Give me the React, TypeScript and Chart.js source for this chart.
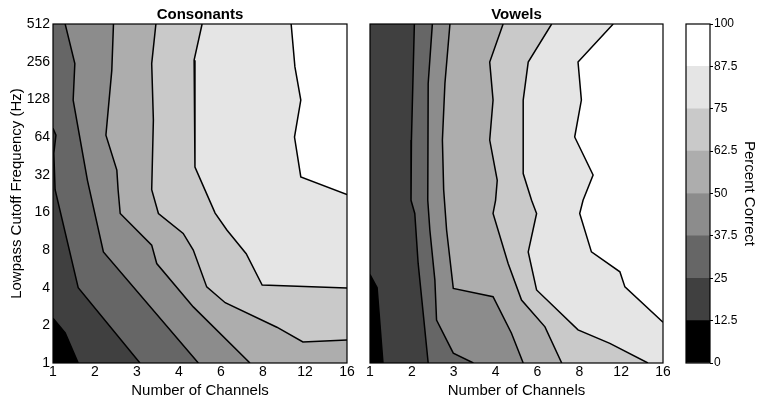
import React, { useEffect, useRef } from 'react';
import { Chart, registerables } from 'chart.js';

Chart.register(...registerables);
Chart.defaults.font.family = "'Liberation Sans', Arial, Helvetica, sans-serif";
Chart.defaults.color = '#000';

// Axis categories (evenly spaced on the plot)
const CHANNELS = ['1', '2', '3', '4', '6', '8', '12', '16'];
const CUTOFFS_HZ = ['1', '2', '4', '8', '16', '32', '64', '128', '256', '512'];

// Colour-bar levels (percent correct)
const LEVELS = [0, 12.5, 25, 37.5, 50, 62.5, 75, 87.5, 100];
const LEVEL_TICKS = ['0', '12.5', '25', '37.5', '50', '62.5', '75', '87.5', '100'];
const LEVEL_COLORS = ['#000000', '#404040', '#666666', '#8c8c8c', '#adadad', '#c9c9c9', '#e5e5e5', '#ffffff'];

// Contour lines: [channel index, cutoff index] (index along the axes above)
const CONS_12_5 = [[0, 1.19], [0.29, 0.8], [0.6, 0]];
const CONS_25 = [[0, 6.23], [0.07, 6.05], [0.02, 5.57], [0.05, 4.6], [0.6, 2.0], [2.07, 0]];
const CONS_37_5 = [[0.29, 9], [0.52, 7.95], [0.48, 6.98], [0.82, 4.85], [1.2, 2.95], [3.46, 0]];
const CONS_50 = [[1.44, 9], [1.4, 7.77], [1.26, 6.05], [1.52, 5.12], [1.55, 4.6], [1.6, 3.97], [2.35, 3.13], [2.47, 2.64], [3.34, 1.49], [4.69, 0]];
const CONS_62_5 = [[2.45, 9], [2.35, 7.95], [2.39, 6.45], [2.35, 4.6], [2.51, 3.97], [3.1, 3.44], [3.34, 3.0], [3.66, 2.02], [4.1, 1.6], [5.33, 0.95], [5.95, 0.56], [7, 0.61]];
const CONS_75 = [[3.55, 9], [3.36, 8.04], [3.38, 5.2], [3.62, 4.59], [3.86, 3.98], [4.14, 3.53], [4.6, 2.9], [4.98, 2.07], [7, 1.99]];
const CONS_87_5 = [[5.67, 9], [5.76, 7.86], [5.9, 6.98], [5.75, 6.0], [5.9, 4.94], [7, 4.47]];

const VOW_12_5 = [[0, 2.35], [0.17, 2.0], [0.31, 0]];
const VOW_25 = [[1.06, 9], [0.99, 5.92], [0.98, 4.32], [1.07, 3.97], [1.15, 2.65], [1.27, 1.33], [1.39, 0]];
const VOW_37_5 = [[1.49, 9], [1.39, 7.42], [1.38, 4.32], [1.43, 3.53], [1.55, 2.2], [1.59, 1.14], [1.99, 0.26], [2.47, 0]];
const VOW_50 = [[1.91, 9], [1.79, 7.42], [1.73, 5.92], [1.76, 4.6], [1.83, 3.53], [1.99, 1.98], [2.94, 1.76], [3.38, 0.79], [3.66, 0]];
const VOW_62_5 = [[3.18, 9], [2.86, 7.99], [2.94, 6.98], [2.86, 5.92], [3.04, 4.85], [3.0, 4.32], [2.94, 3.97], [3.3, 2.64], [3.62, 1.67], [4.18, 0.96], [4.58, 0]];
const VOW_75 = [[4.34, 9], [3.78, 7.99], [3.66, 6.98], [3.66, 5.03], [3.86, 4.32], [3.98, 3.97], [3.78, 2.95], [3.98, 1.94], [4.97, 0.88], [5.73, 0.52], [6.64, 0]];
const VOW_87_5 = [[5.81, 9], [4.97, 7.99], [5.05, 6.98], [4.89, 6.0], [5.33, 4.99], [5.09, 4.32], [5.01, 3.97], [5.29, 2.95], [5.97, 2.42], [6.09, 2.02], [7, 1.08]];

const CONS_LINES = [CONS_12_5, CONS_25, CONS_37_5, CONS_50, CONS_62_5, CONS_75, CONS_87_5];
const VOW_LINES = [VOW_12_5, VOW_25, VOW_37_5, VOW_50, VOW_62_5, VOW_75, VOW_87_5];

const XMAX = CHANNELS.length - 1;
const YMAX = CUTOFFS_HZ.length - 1;

// perimeter parameter, counter-clockwise starting at bottom-left
function perim(p: number[]) {
  const [x, y] = p;
  const e = 1e-6;
  if (y <= e) return x;
  if (x >= XMAX - e) return XMAX + y;
  if (y >= YMAX - e) return XMAX + YMAX + (XMAX - x);
  return 2 * XMAX + YMAX + (YMAX - y);
}
const CORNERS = [[XMAX, 0], [XMAX, YMAX], [0, YMAX], [0, 0]];
const CORNER_T = [XMAX, XMAX + YMAX, 2 * XMAX + YMAX, 2 * (XMAX + YMAX)];

// polygon of the region above / right of a contour line
function regionAbove(line: number[][]) {
  const total = 2 * (XMAX + YMAX);
  const ts = perim(line[0]);
  const te = perim(line[line.length - 1]);
  const stop = ts <= te ? ts + total : ts;
  const pts = line.slice();
  for (let k = 0; k < 2; k++) {
    for (let i = 0; i < 4; i++) {
      const t = CORNER_T[i] + k * total;
      if (t > te && t < stop) pts.push(CORNERS[i]);
    }
  }
  return pts;
}

const toXY = (pts: number[][]) => pts.map(([x, y]) => ({ x, y }));

const framePlugin = {
  id: 'frame',
  afterDatasetsDraw(chart: any) {
    const { ctx, chartArea: a } = chart;
    ctx.save();
    ctx.strokeStyle = '#000';
    ctx.lineWidth = 1.2;
    ctx.strokeRect(a.left, a.top, a.right - a.left, a.bottom - a.top);
    ctx.restore();
  },
};

function panelConfig(title: string, lines: number[][][], withYAxis: boolean, padding: any) {
  const lineSets = lines.map((l) => ({
    data: toXY(l),
    showLine: true,
    fill: false,
    borderColor: '#000',
    borderWidth: 1.5,
    pointRadius: 0,
    pointHoverRadius: 0,
  }));
  const regions: any[] = [];
  for (let k = lines.length - 1; k >= 0; k--) {
    regions.push({
      data: toXY(regionAbove(lines[k])),
      showLine: true,
      fill: 'shape',
      backgroundColor: LEVEL_COLORS[k + 1],
      borderWidth: 0,
      pointRadius: 0,
      pointHoverRadius: 0,
    });
  }
  regions.push({
    data: toXY(CORNERS),
    showLine: true,
    fill: 'shape',
    backgroundColor: LEVEL_COLORS[0],
    borderWidth: 0,
    pointRadius: 0,
    pointHoverRadius: 0,
  });
  return {
    type: 'scatter',
    data: { datasets: [...lineSets, ...regions] },
    options: {
      animation: false,
      responsive: false,
      events: [],
      layout: { padding },
      plugins: {
        legend: { display: false },
        tooltip: { enabled: false },
        filler: { drawTime: 'beforeDatasetsDraw', propagate: false },
        title: {
          display: true,
          text: title,
          fullSize: false,
          color: '#000',
          font: { size: 15, weight: 'bold' },
          padding: { top: 6, bottom: 0 },
        },
      },
      scales: {
        x: {
          type: 'linear',
          min: 0,
          max: XMAX,
          grid: { display: false, drawTicks: false },
          border: { display: false },
          ticks: {
            stepSize: 1,
            autoSkip: false,
            maxRotation: 0,
            padding: 1,
            font: { size: 14 },
            callback: (v: number) => CHANNELS[v] ?? '',
          },
          title: {
            display: true,
            text: 'Number of Channels',
            font: { size: 15 },
            padding: { top: 0, bottom: 5 },
          },
          afterFit: (s: any) => {
            s.height = 42;
            s.paddingLeft = 0;
            s.paddingRight = 0;
          },
        },
        y: {
          type: 'linear',
          min: 0,
          max: YMAX,
          display: withYAxis,
          grid: { display: false, drawTicks: false },
          border: { display: false },
          ticks: {
            stepSize: 1,
            autoSkip: false,
            padding: 3,
            font: { size: 14 },
            callback: (v: number) => CUTOFFS_HZ[v] ?? '',
          },
          title: {
            display: true,
            text: 'Lowpass Cutoff Frequency (Hz)',
            font: { size: 15 },
            padding: { top: 7.5, bottom: 0 },
          },
          afterFit: (s: any) => {
            s.width = withYAxis ? 53 : 0;
            s.paddingTop = 0;
            s.paddingBottom = 0;
          },
        },
      },
    },
    plugins: [framePlugin],
  };
}

function colorbarConfig() {
  return {
    type: 'bar',
    data: {
      labels: [''],
      datasets: LEVEL_COLORS.map((c, i) => ({
        data: [LEVELS[i + 1] - LEVELS[i]],
        backgroundColor: c,
        borderWidth: 0,
        barPercentage: 1,
        categoryPercentage: 1,
      })),
    },
    options: {
      animation: false,
      responsive: false,
      events: [],
      layout: { padding: { left: 16, top: 24, bottom: 42, right: 0 } },
      plugins: { legend: { display: false }, tooltip: { enabled: false } },
      scales: {
        x: {
          display: false,
          stacked: true,
          afterFit: (s: any) => {
            s.height = 0;
          },
        },
        y: {
          position: 'right',
          stacked: true,
          min: LEVELS[0],
          max: LEVELS[LEVELS.length - 1],
          grid: { display: true, drawOnChartArea: false, drawTicks: true, tickLength: 3, color: '#000' },
          border: { display: false },
          ticks: {
            stepSize: 12.5,
            autoSkip: false,
            padding: 1,
            font: { size: 12 },
            callback: (_v: number, i: number) => LEVEL_TICKS[i],
          },
          title: {
            display: true,
            text: 'Percent Correct',
            font: { size: 15 },
            padding: { top: 12, bottom: 0 },
          },
          afterFit: (s: any) => {
            s.width = 60;
            s.paddingTop = 0;
            s.paddingBottom = 0;
          },
        },
      },
    },
    plugins: [framePlugin],
  };
}

export default function App() {
  const leftRef = useRef<HTMLCanvasElement>(null);
  const rightRef = useRef<HTMLCanvasElement>(null);
  const cbRef = useRef<HTMLCanvasElement>(null);

  useEffect(() => {
    const charts: Chart[] = [];
    if (leftRef.current)
      charts.push(new Chart(leftRef.current, panelConfig('Consonants', CONS_LINES, true, { left: 0, right: 15, top: 0, bottom: 0 }) as any));
    if (rightRef.current)
      charts.push(new Chart(rightRef.current, panelConfig('Vowels', VOW_LINES, false, { left: 15, right: 7, top: 0, bottom: 0 }) as any));
    if (cbRef.current) charts.push(new Chart(cbRef.current, colorbarConfig() as any));
    return () => charts.forEach((c) => c.destroy());
  }, []);

  return (
    <div style={{ position: 'absolute', left: 0, top: 0, width: 770, height: 405, background: '#fff', overflow: 'hidden' }}>
      <canvas ref={leftRef} width={362} height={405} style={{ position: 'absolute', left: 0, top: 0 }} />
      <canvas ref={rightRef} width={315} height={405} style={{ position: 'absolute', left: 355, top: 0 }} />
      <canvas ref={cbRef} width={100} height={405} style={{ position: 'absolute', left: 670, top: 0 }} />
    </div>
  );
}
